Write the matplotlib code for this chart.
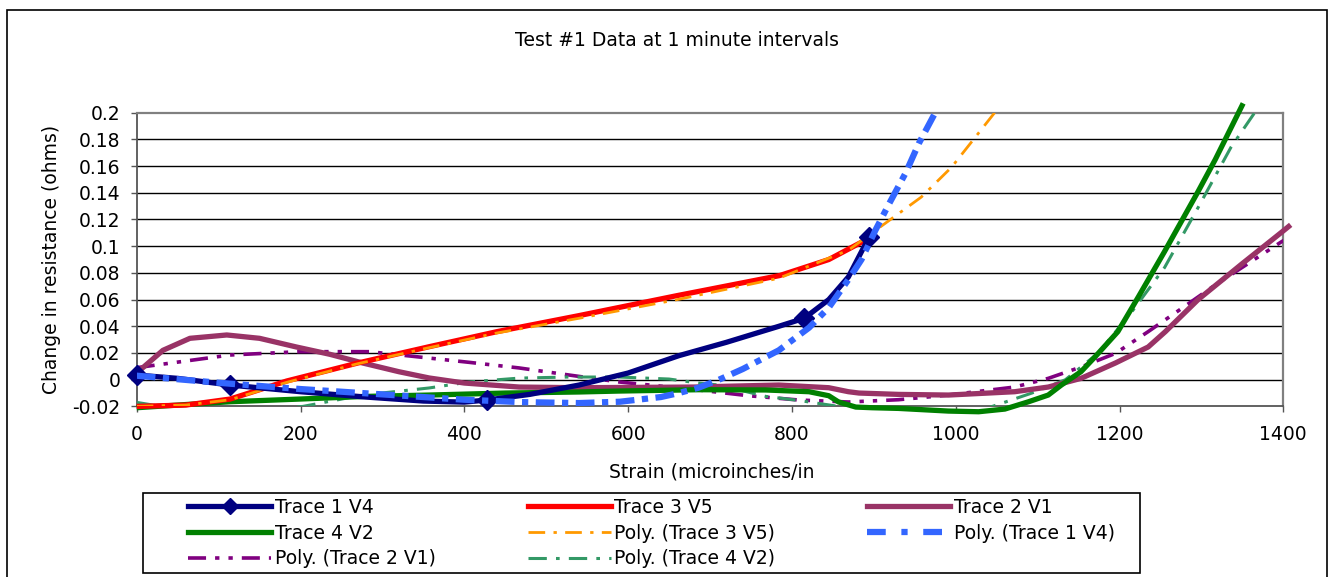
import numpy as np
import matplotlib
matplotlib.use("Agg")
import matplotlib.pyplot as plt
from matplotlib.lines import Line2D
from matplotlib.patches import Rectangle

plt.rcParams['font.family'] = ['DejaVu Sans']

# ---- data ----
# Trace 1 V4 (smoothed line, diamonds on the measured points)
t1_x = [0, 50, 114, 200, 280, 350, 400, 428, 480, 540, 600, 662, 720, 784, 815, 845, 869, 894]
t1_y = [0.0035, 0.001, -0.004, -0.009, -0.013, -0.016, -0.0168, -0.0152, -0.011, -0.004, 0.005,
        0.018, 0.028, 0.040, 0.046, 0.060, 0.077, 0.1066]
t1_marks = [0, 2, 7, 14, 17]

# Trace 3 V5
t3_x = [0, 60, 114, 150, 183, 270, 357, 440, 540, 660, 785, 845, 885, 897]
t3_y = [-0.020, -0.019, -0.0145, -0.0075, -0.001, 0.0125, 0.0247, 0.036, 0.048, 0.063, 0.078,
        0.090, 0.103, 0.108]

# Trace 2 V1
t2_x = [0, 32, 65, 110, 150, 195, 236, 276, 320, 357, 400, 467, 540, 680, 784, 845, 869, 882,
        930, 991, 1072, 1113, 1153, 1195, 1235, 1256, 1296, 1350, 1397, 1409]
t2_y = [0.005, 0.022, 0.031, 0.0335, 0.031, 0.0245, 0.019, 0.0125, 0.006, 0.0013, -0.0025,
        -0.0055, -0.006, -0.0055, -0.004, -0.006, -0.009, -0.010, -0.011, -0.0115, -0.009,
        -0.0055, 0.001, 0.0125, 0.0245, 0.036, 0.060, 0.087, 0.110, 0.116]

# Trace 4 V2
t4_x = [0, 50, 114, 199, 280, 357, 450, 540, 589, 686, 768, 821, 845, 857, 878, 898, 930, 991,
        1028, 1060, 1089, 1113, 1129, 1153, 1170, 1198, 1223, 1255, 1296, 1317, 1351]
t4_y = [-0.021, -0.019, -0.0165, -0.0145, -0.0125, -0.0115, -0.010, -0.0092, -0.0085, -0.0075,
        -0.0077, -0.009, -0.012, -0.0167, -0.0205, -0.021, -0.0215, -0.0235, -0.024, -0.022,
        -0.0165, -0.0115, -0.004, 0.006, 0.017, 0.036, 0.062, 0.096, 0.141, 0.165, 0.207]

# polynomial trendlines
p3_x = [0, 60, 114, 183, 270, 357, 440, 540, 660, 784, 869, 906, 958, 995, 1024, 1047, 1053]
p3_y = [-0.020, -0.019, -0.015, -0.002, 0.012, 0.024, 0.035, 0.046, 0.060, 0.076, 0.097, 0.1136,
        0.1368, 0.1592, 0.1817, 0.1996, 0.205]

p1_x = [0, 114, 200, 300, 400, 470, 540, 590, 640, 662, 686, 711, 740, 784, 821, 845, 869, 885,
        902, 918, 939, 955, 975, 980]
p1_y = [0.003, -0.003, -0.007, -0.011, -0.015, -0.0168, -0.0175, -0.0165, -0.013, -0.010, -0.006,
        0.000, 0.008, 0.022, 0.039, 0.054, 0.075, 0.090, 0.112, 0.131, 0.155, 0.177, 0.200, 0.206]

p2_x = [0, 114, 199, 284, 345, 406, 467, 528, 589, 686, 747, 808, 869, 930, 991, 1072, 1113,
        1153, 1195, 1235, 1275, 1317, 1357, 1397, 1405]
p2_y = [0.009, 0.0185, 0.021, 0.021, 0.017, 0.013, 0.0088, 0.0035, -0.0017, -0.0077, -0.012,
        -0.0152, -0.0167, -0.015, -0.0115, -0.0055, 0.001, 0.0095, 0.0197, 0.036, 0.053, 0.071,
        0.087, 0.103, 0.106]

p4_x = [0, 30, 100, 170, 203, 276, 357, 406, 467, 528, 589, 650, 686, 711, 768, 808, 821, 857,
        900, 960, 1010, 1040, 1093, 1134, 1174, 1214, 1255, 1296, 1336, 1365, 1370]
p4_y = [-0.017, -0.020, -0.024, -0.022, -0.020, -0.0115, -0.0062, -0.0017, 0.0012, 0.002, 0.002,
        0.0005, -0.0025, -0.004, -0.0125, -0.0155, -0.0167, -0.020, -0.023, -0.026, -0.024,
        -0.021, -0.010, 0.000, 0.020, 0.050, 0.084, 0.129, 0.174, 0.200, 0.206]

x_ticks = [0, 200, 400, 600, 800, 1000, 1200, 1400]
y_ticks = [-0.02, 0, 0.02, 0.04, 0.06, 0.08, 0.1, 0.12, 0.14, 0.16, 0.18, 0.2]
y_labels = ['-0.02', '0', '0.02', '0.04', '0.06', '0.08', '0.1', '0.12', '0.14', '0.16', '0.18', '0.2']

legend_labels = ['Trace 1 V4', 'Trace 3 V5', 'Trace 2 V1',
                 'Trace 4 V2', 'Poly. (Trace 3 V5)', 'Poly. (Trace 1 V4)',
                 'Poly. (Trace 2 V1)', 'Poly. (Trace 4 V2)']

W, H = 1329, 577
fig = plt.figure(figsize=(W / 100, H / 100), dpi=100)
ax = fig.add_axes([136.7 / W, 1 - 406.4 / H, (1283.3 - 136.7) / W, (406.4 - 112.7) / H])

fs = 13.5
dash_p2 = (5, 2.5, 1.2, 2.5, 1.2, 2.5)
dash_dd = (6, 3, 1.2, 3)
dash_p1 = (3, 1.2, 1, 1.2)

# gridlines
for v in y_ticks[1:-1]:
    ax.axhline(v, color='black', lw=1.0, zorder=1)

# trendlines (clipped to plot area)
lp2, = ax.plot(p2_x, p2_y, color='#800080', lw=2.6, dashes=dash_p2, zorder=3)
lp4, = ax.plot(p4_x, p4_y, color='#339966', lw=2.2, dashes=dash_dd, zorder=3)

# data series (not clipped, like the original)
kw = dict(lw=3.8, clip_on=False, solid_joinstyle='round', solid_capstyle='butt')
l2, = ax.plot(t2_x, t2_y, color='#993366', zorder=4, **kw)
l4, = ax.plot(t4_x, t4_y, color='#008000', zorder=4, **kw)
l3, = ax.plot(t3_x, t3_y, color='#FF0000', zorder=4, **kw)
lp3, = ax.plot(p3_x, p3_y, color='#FF9900', lw=2.0, dashes=dash_dd, zorder=5)
l1, = ax.plot(t1_x, t1_y, color='#000080', marker='D', markersize=10,
              markevery=t1_marks, zorder=5, **kw)
lp1, = ax.plot(p1_x, p1_y, color='#3366FF', lw=4.5, dashes=dash_p1, zorder=6)

ax.set_xlim(0, 1400)
ax.set_ylim(-0.02, 0.2)
ax.set_xticks(x_ticks)
ax.set_xticklabels([str(v) for v in x_ticks])
ax.set_yticks(y_ticks)
ax.set_yticklabels(y_labels)
ax.tick_params(axis='both', labelsize=fs, direction='out', length=4.5, width=1, color='#555555')
ax.tick_params(axis='y', pad=7)
ax.tick_params(axis='x', pad=9)
for s in ['top', 'right']:
    ax.spines[s].set_color('#808080')
    ax.spines[s].set_linewidth(1.6)
for s in ['left', 'bottom']:
    ax.spines[s].set_color('#555555')
    ax.spines[s].set_linewidth(1.3)

fig.text(677 / W, 1 - 40 / H, 'Test #1 Data at 1 minute intervals', ha='center', va='center', fontsize=fs)
fig.text(712 / W, 1 - 472 / H, 'Strain (microinches/in', ha='center', va='center', fontsize=fs)
fig.text(52 / W, 1 - 259.5 / H, 'Change in resistance (ohms)', ha='center', va='center',
         rotation=90, fontsize=fs)

# outer chart border
fig.patches.append(Rectangle((7 / W, -0.01), (1327 - 7) / W, 1 - 10 / H + 0.01,
                             transform=fig.transFigure, fill=False, edgecolor='black', lw=1.2))

# legend: matplotlib fills columns first, so reorder to get the original row order
def handle(line, dashes=None, marker=None):
    h = Line2D([], [], color=line.get_color(), lw=line.get_linewidth())
    if dashes is not None:
        h.set_dashes(dashes)
    if marker:
        h.set_marker(marker)
        h.set_markersize(8)
    return h

by_label = {
    'Trace 1 V4': handle(l1, marker='D'),
    'Trace 3 V5': handle(l3),
    'Trace 2 V1': handle(l2),
    'Trace 4 V2': handle(l4),
    'Poly. (Trace 3 V5)': handle(lp3, dash_dd),
    'Poly. (Trace 1 V4)': handle(lp1, (3, 2.5, 1, 2.5)),
    'Poly. (Trace 2 V1)': handle(lp2, dash_p2),
    'Poly. (Trace 4 V2)': handle(lp4, dash_dd),
}
order = [0, 3, 6, 1, 4, 7, 2, 5]
labels = [legend_labels[i] for i in order]
leg = fig.legend([by_label[k] for k in labels], labels, ncol=3, loc='upper left',
                 bbox_to_anchor=(188 / W, 1 - 498 / H), fontsize=fs, frameon=False,
                 handlelength=4.43, handletextpad=0.2, columnspacing=4.9,
                 borderpad=0, labelspacing=0.36, borderaxespad=0)

fig.patches.append(Rectangle((143 / W, 1 - 573 / H), (1140 - 143) / W, (573 - 493) / H,
                             transform=fig.transFigure, fill=False, edgecolor='black', lw=1.2))

fig.savefig('out.png', dpi=100)
